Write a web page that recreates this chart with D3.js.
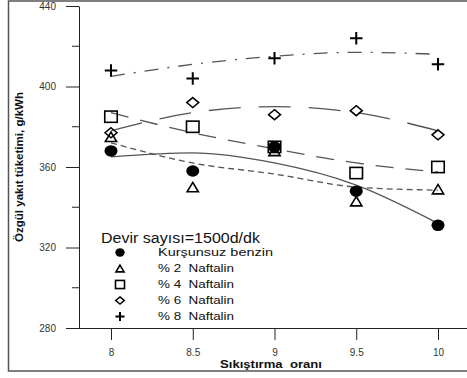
<!DOCTYPE html>
<html>
<head>
<meta charset="utf-8">
<script src="https://cdn.jsdelivr.net/npm/d3@7"></script>
<style>
  body { margin: 0; background: #fff; }
  svg { display: block; font-family: "Liberation Sans", Arial, sans-serif; }
</style>
</head>
<body>
<svg id="chart" width="467" height="378"></svg>
<script>
// compression ratio on x, specific fuel consumption on y
const ratios = [8, 8.5, 9, 9.5, 10];
const yTicks = [280, 320, 360, 400, 440];
const yMinor = [300, 340, 380, 420];

const benzin = [368, 358, 370, 348, 331];
const naft2 = [375, 350, 368, 343, 349];
const naft4 = [385, 380, 370, 357, 360];
const naft6 = [377, 392, 386, 388, 376];
const naft8 = [408, 404, 414, 424, 411];

// trend curves at each ratio
const fitBenzin = [365, 367, 362, 351, 332];
const fit2 = [372, 362, 356.5, 350, 348.5];
const fit4 = [387, 377, 369, 362, 357.5];
const fit6 = [378, 387, 390, 387, 378];
const fit8 = [405, 411, 415, 417, 416];

const seriesNames = ["Kurşunsuz benzin", "% 2  Naftalin", "% 4  Naftalin", "% 6  Naftalin", "% 8  Naftalin"];

const series = [
  { name: seriesNames[0], vals: benzin, fit: fitBenzin, sym: "circle", dash: null, tl: 115 },
  { name: seriesNames[1], vals: naft2, fit: fit2, sym: "triangle", dash: "6,4", tl: 76 },
  { name: seriesNames[2], vals: naft4, fit: fit4, sym: "square", dash: "18,12", tl: 76 },
  { name: seriesNames[3], vals: naft6, fit: fit6, sym: "diamond", dash: "32,18", tl: 76 },
  { name: seriesNames[4], vals: naft8, fit: fit8, sym: "plus", dash: "14,9,2,9", tl: 76 },
];

const svg = d3.select("#chart");

// outer frame (no right edge visible)
svg.append("path")
  .attr("d", "M467,1H8.5V371H467")
  .attr("fill", "none").attr("stroke", "#555").attr("stroke-width", 1.5);

const x = d3.scaleLinear().domain([7.8, 10.2]).range([78.3, 470.7]);
const y = d3.scaleLinear().domain([280, 440]).range([328, 6]);

// y axis
const gy = svg.append("g").attr("transform", "translate(79,0)")
  .call(d3.axisLeft(y).tickValues(yTicks).tickSize(13).tickPadding(10).tickSizeOuter(0));
gy.select(".domain").attr("stroke", "#222");
gy.selectAll(".tick line").attr("stroke", "#222");
gy.selectAll(".tick text").attr("font-size", 10).attr("fill", "#333")
  .attr("font-family", "Liberation Sans, Arial, sans-serif");
svg.append("g").selectAll("line").data(yMinor).join("line")
  .attr("x1", 72).attr("x2", 79)
  .attr("y1", (d) => y(d)).attr("y2", (d) => y(d))
  .attr("stroke", "#222");

// x axis
const gx = svg.append("g").attr("transform", "translate(0,328)")
  .call(d3.axisBottom(x).tickValues(ratios).tickSize(12).tickPadding(9).tickSizeOuter(0)
    .tickFormat((d) => String(d)));
gx.select(".domain").attr("stroke", "#222");
gx.selectAll(".tick line").attr("stroke", "#222");
gx.selectAll(".tick text").attr("font-size", 10).attr("fill", "#333")
  .attr("font-family", "Liberation Sans, Arial, sans-serif");

// axis titles
svg.append("text")
  .attr("transform", "translate(23,167) rotate(-90)")
  .attr("text-anchor", "middle")
  .attr("font-size", 10.5).attr("font-weight", "bold").attr("fill", "#111")
  .attr("textLength", 150).attr("lengthAdjust", "spacingAndGlyphs")
  .text("Özgül yakıt tüketimi, g/kWh");

svg.append("text")
  .attr("x", 220).attr("y", 368)
  .attr("font-size", 11.5).attr("font-weight", "bold").attr("fill", "#111")
  .attr("xml:space", "preserve")
  .attr("textLength", 102).attr("lengthAdjust", "spacingAndGlyphs")
  .text("Sıkıştırma  oranı");

// trend lines
const line = d3.line()
  .x((d, i) => x(ratios[i]))
  .y((d) => y(d))
  .curve(d3.curveMonotoneX);

svg.append("g").selectAll("path").data(series).join("path")
  .attr("d", (d) => line(d.fit))
  .attr("fill", "none")
  .attr("stroke", "#555")
  .attr("stroke-width", 1.3)
  .attr("stroke-dasharray", (d) => d.dash);

// marker drawing
function drawMarker(g, sym, s) {
  if (sym === "circle") {
    g.append("ellipse").attr("rx", s * 0.52).attr("ry", s * 0.46).attr("fill", "#000");
  } else if (sym === "triangle") {
    const h = s * 0.75, w = s * 0.45;
    g.append("path").attr("d", `M0,${-h / 2}L${w},${h / 2}L${-w},${h / 2}Z`)
      .attr("fill", "none").attr("stroke", "#000").attr("stroke-width", 1.6);
  } else if (sym === "square") {
    g.append("rect").attr("x", -s / 2).attr("y", -s * 0.45).attr("width", s).attr("height", s * 0.9)
      .attr("fill", "none").attr("stroke", "#000").attr("stroke-width", 1.6);
  } else if (sym === "diamond") {
    const w = s * 0.48, h = s * 0.4;
    g.append("path").attr("d", `M0,${-h}L${w},0L0,${h}L${-w},0Z`)
      .attr("fill", "none").attr("stroke", "#000").attr("stroke-width", 1.5);
  } else {
    const a = s / 2;
    g.append("path").attr("d", `M${-a},0H${a}M0,${-a}V${a}`)
      .attr("fill", "none").attr("stroke", "#000").attr("stroke-width", 2);
  }
}

// markers, drawn back to front so filled circles sit on top
[...series].reverse().forEach((sr) => {
  sr.vals.forEach((v, i) => {
    const g = svg.append("g").attr("transform", `translate(${x(ratios[i])},${y(v)})`);
    drawMarker(g, sr.sym, 12.5);
  });
});

// legend
svg.append("text")
  .attr("x", 101).attr("y", 243)
  .attr("font-size", 14).attr("fill", "#111")
  .attr("textLength", 159).attr("lengthAdjust", "spacingAndGlyphs")
  .text("Devir sayısı=1500d/dk");

const legendRows = [256, 272, 288, 304, 320];
series.forEach((sr, i) => {
  const g = svg.append("g").attr("transform", `translate(120,${legendRows[i] - 3.5})`);
  drawMarker(g, sr.sym, 9);
  svg.append("text")
    .attr("x", 158).attr("y", legendRows[i])
    .attr("font-size", 11.5).attr("fill", "#111")
    .attr("xml:space", "preserve")
    .attr("textLength", sr.tl).attr("lengthAdjust", "spacingAndGlyphs")
    .text(sr.name);
});
</script>
</body>
</html>
